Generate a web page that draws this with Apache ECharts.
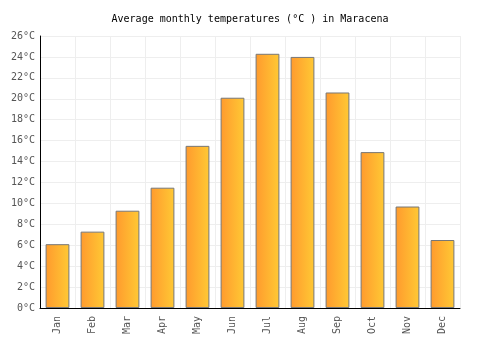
<!DOCTYPE html>
<html><head><meta charset="utf-8">
<script src="https://cdn.jsdelivr.net/npm/echarts@6/dist/echarts.min.js"></script>
<style>html,body{margin:0;padding:0;background:#fff}#c{width:500px;height:350px}</style>
</head><body><div id="c"></div>
<script>
const months = ['Jan','Feb','Mar','Apr','May','Jun','Jul','Aug','Sep','Oct','Nov','Dec'];
const temps = [6.1, 7.3, 9.3, 11.5, 15.5, 20.1, 24.3, 24.0, 20.6, 14.9, 9.7, 6.5];
const chart = echarts.init(document.getElementById('c'));
chart.setOption({
  animation: false,
  title: {text: 'Average monthly temperatures (°C ) in Maracena', left: 'center', top: 9,
    textStyle: {fontFamily: 'DejaVu Sans Mono', fontSize: 10, fontWeight: 'normal', color: '#000'}},
  grid: {left: 40, right: 40, top: 36, bottom: 42},
  xAxis: {type: 'category', data: months,
    axisLine: {lineStyle: {color: '#000'}}, axisTick: {show: false},
    axisLabel: {rotate: 90, fontFamily: 'DejaVu Sans Mono', fontSize: 10, color: '#555', margin: 8},
    splitLine: {show: true, interval: 0, lineStyle: {color: '#eee'}}},
  yAxis: {type: 'value', min: 0, max: 26, interval: 2,
    axisLine: {show: true, lineStyle: {color: '#000'}}, axisTick: {show: false},
    axisLabel: {formatter: '{value}°C', fontFamily: 'DejaVu Sans Mono', fontSize: 10, color: '#555', margin: 5},
    splitLine: {lineStyle: {color: '#eee'}}},
  series: [{type: 'bar', data: temps, barCategoryGap: '32%',
    itemStyle: {borderColor: '#777', borderWidth: 1,
      color: new echarts.graphic.LinearGradient(0, 0, 1, 0, [{offset: 0, color: '#ff9a2e'}, {offset: 1, color: '#ffc934'}])}}]
});
</script></body></html>
